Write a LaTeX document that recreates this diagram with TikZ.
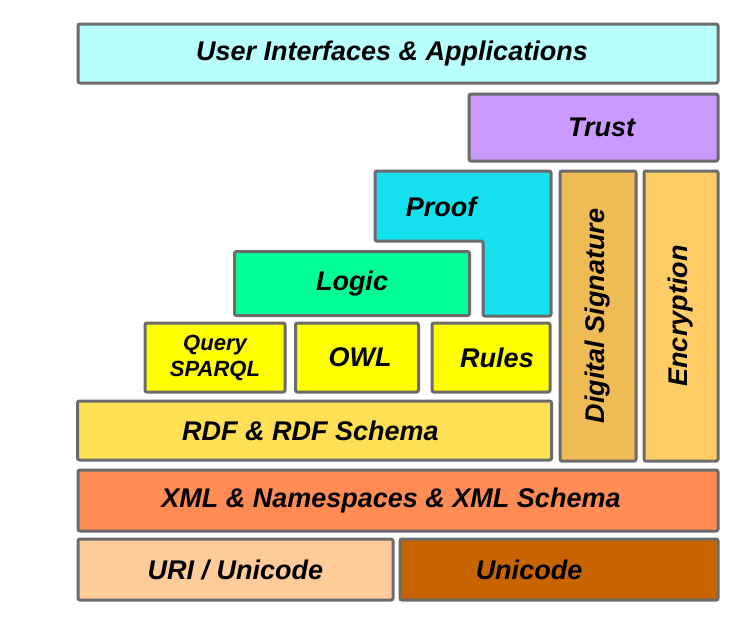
\documentclass[tikz,border=0pt]{standalone}
\usepackage{fontspec}
\setsansfont{Liberation Sans}
\usepackage{tikz}
\usetikzlibrary{positioning}

\definecolor{uicol}{HTML}{B8FFFF}
\definecolor{trustcol}{HTML}{CC99FF}
\definecolor{proofcol}{HTML}{14E0EE}
\definecolor{logiccol}{HTML}{00FF99}
\definecolor{querycol}{HTML}{FFFF00}
\definecolor{rdfcol}{HTML}{FFE055}
\definecolor{sigcol}{HTML}{EEBB55}
\definecolor{cryptcol}{HTML}{FFCC66}
\definecolor{xmlcol}{HTML}{FF8C55}
\definecolor{uricol}{HTML}{FFCC99}
\definecolor{unicol}{HTML}{C86400}
\definecolor{edgecol}{HTML}{6B6B6B}

\tikzset{
  layer/.style={draw=edgecol, line width=3pt, rounded corners=2pt, inner sep=0pt,
    font=\sffamily\bfseries\itshape\fontsize{27}{30}\selectfont},
  small/.style={font=\sffamily\bfseries\itshape\fontsize{22}{26}\selectfont, align=center},
  upright/.style={rotate=90, font=\sffamily\bfseries\itshape\fontsize{27}{30}\selectfont}
}

\begin{document}
\begin{tikzpicture}[x=1pt, y=-1pt]
    \useasboundingbox[fill=white] (0,0) rectangle (746,622);

    % Define layers
    \node[layer, fill=uicol, minimum width=640pt, minimum height=59pt] (ui) at (398,53.5) {User Interfaces \& Applications\hspace*{12pt}};
    \node[layer, fill=trustcol, minimum width=249pt, minimum height=67pt] (trust) at (593.5,127.5) {\hspace{16pt}Trust};

    % Proof is an L shape
    \draw[draw=edgecol, line width=3pt, rounded corners=2pt, fill=proofcol]
        (375,171) -- (551,171) -- (551,316) -- (483,316) -- (483,241) -- (375,241) -- cycle;
    \node[font=\sffamily\bfseries\itshape\fontsize{27}{30}\selectfont] (proof) at (441,207) {Proof};

    \node[layer, fill=sigcol, minimum width=76pt, minimum height=290pt] (sig) at (598,316) {};
    \node[upright] (siglabel) at (sig.center) {Digital Signature};
    \node[layer, fill=cryptcol, minimum width=74pt, minimum height=290pt] (crypt) at (681,316) {};
    \node[upright] (cryptlabel) at (crypt.center) {Encryption};

    \node[layer, fill=logiccol, minimum width=235pt, minimum height=64pt] (logic) at (352,283.5) {Logic};

    \node[layer, fill=querycol, minimum width=140pt, minimum height=69pt, small] (query) at (215,357.5) {Query\\SPARQL};
    \node[layer, fill=querycol, minimum width=123pt, minimum height=69pt] (owl) at (357,357.5) {\hspace{6pt}OWL};
    \node[layer, fill=querycol, minimum width=118pt, minimum height=69pt] (rules) at (491,357.5) {\hspace{12pt}Rules};

    \node[layer, fill=rdfcol, minimum width=474pt, minimum height=59pt] (rdf) at (314.5,430.5) {RDF \& RDF Schema\hspace*{8pt}};
    \node[layer, fill=xmlcol, minimum width=640pt, minimum height=61pt] (xml) at (398,500.5) {XML \& Namespaces \& XML Schema\hspace*{14pt}};

    \node[layer, fill=uricol, minimum width=315pt, minimum height=61pt] (uri) at (235.5,569.5) {URI / Unicode};
    \node[layer, fill=unicol, minimum width=318pt, minimum height=61pt] (uni) at (559,569.5) {Unicode\hspace*{60pt}};
\end{tikzpicture}
\end{document}
